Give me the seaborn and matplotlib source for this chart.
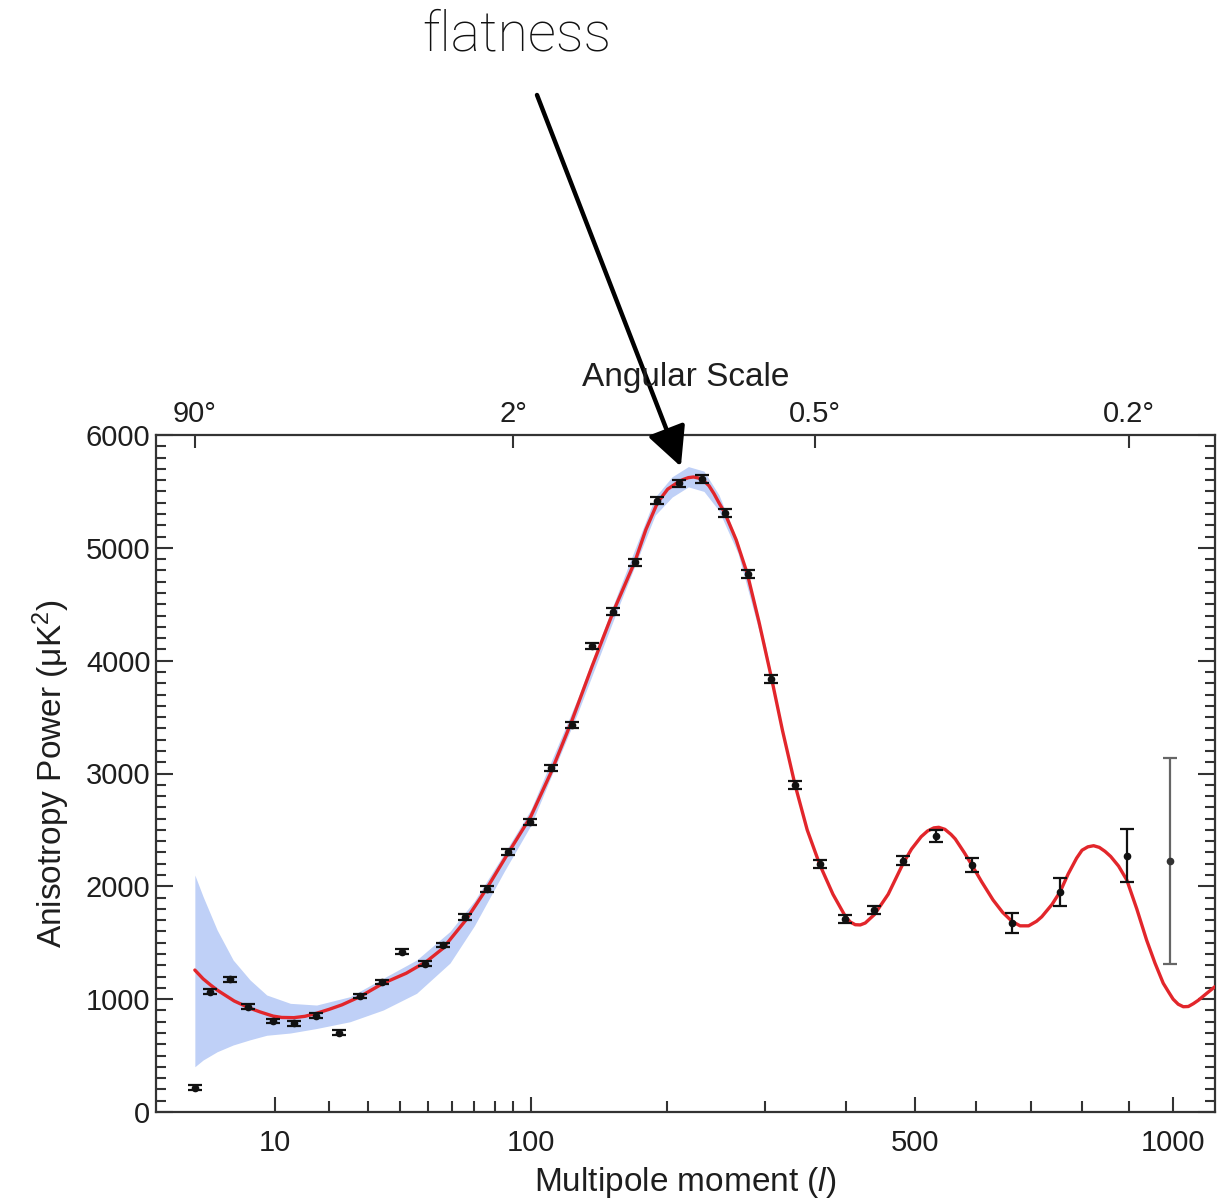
import numpy as np
import pandas as pd
import matplotlib
matplotlib.use("Agg")
import matplotlib.pyplot as plt
import seaborn as sns

# ---------------- data ----------------
ell = [2, 3, 4.6, 6.5, 9.7, 13, 17.2, 22.3, 27.6, 33.9, 40.6, 49, 56.2,
       65.7, 76.3, 87.3, 99.5, 112.3, 126, 140, 155.8, 173, 191.8, 211.3,
       233.4, 256.2, 280.3, 306.5, 335, 366, 399, 439.6, 481.7, 533.7, 593,
       663.6, 756, 895, 993]
power = [215, 1066, 1176, 933, 807, 786, 854, 703, 1028, 1150, 1421, 1314, 1480,
         1731, 1979, 2304, 2570, 3049, 3430, 4130, 4434, 4872, 5418, 5572,
         5610, 5306, 4768, 3840, 2898, 2198, 1708, 1790, 2227, 2446, 2189,
         1672, 1953, 2272, 2225]
power_err = [20, 20, 20, 20, 20, 20, 20, 20, 20, 20, 20, 20, 20,
             25, 25, 25, 25, 25, 25, 25, 30, 30, 30, 30,
             35, 35, 35, 35, 35, 35, 35, 35, 40, 55, 60,
             90, 125, 232, 910]

model_l = [2, 2.5, 3, 3.5, 4, 5, 6.7, 8, 9.7, 11, 13, 15, 17.3, 20, 23, 27.6,
           34.4, 42, 49.5, 56, 66, 76, 87, 100, 112, 126, 140, 156, 173, 182,
           192, 201, 210, 215, 220, 225, 230, 235, 240, 245, 250, 256, 268,
           280, 293, 307, 320, 335, 350, 366, 383, 399, 406, 413, 420, 427,
           440, 460, 482, 495, 510, 520, 530, 538, 548, 558, 565, 580, 593,
           610, 630, 647, 664, 679, 695, 710, 720, 740, 756, 772, 789, 800,
           812, 824, 836, 848, 860, 877, 895, 917, 939, 958, 977, 990, 1000,
           1012, 1024, 1036, 1048, 1060, 1080, 1101]
model_power = [1258, 1180, 1126, 1081, 1046, 984, 919, 885, 850, 838, 836, 848,
               875, 910, 950, 1022, 1141, 1230, 1335, 1450, 1700, 1980, 2290,
               2620, 3000, 3470, 3950, 4440, 4880, 5160, 5400, 5520, 5580,
               5605, 5622, 5628, 5618, 5595, 5550, 5480, 5400, 5310, 5070,
               4770, 4340, 3850, 3380, 2900, 2500, 2190, 1930, 1740, 1685,
               1660, 1658, 1675, 1750, 1930, 2200, 2330, 2440, 2490, 2518,
               2523, 2505, 2460, 2420, 2300, 2189, 2040, 1879, 1770, 1690,
               1650, 1650, 1690, 1730, 1840, 1953, 2110, 2250, 2320, 2350,
               2360, 2345, 2310, 2265, 2180, 2056, 1800, 1524, 1320, 1141,
               1060, 1000, 955, 933, 935, 960, 990, 1050, 1111]

band_l = [2, 2.5, 3.5, 4.9, 6.7, 8.8, 12.4, 17.3, 25, 34.4, 45.7, 59, 70, 85,
          100, 130, 160, 190, 205, 220, 235, 250, 270, 300, 320]
band_hi = [2100, 1908, 1613, 1347, 1170, 1037, 963, 948, 1022, 1185, 1347,
           1600, 1870, 2290, 2680, 3670, 4620, 5450, 5630, 5720, 5680, 5470,
           5050, 4140, 3400]
band_lo = [401, 461, 534, 594, 640, 680, 700, 740, 800, 904, 1052, 1320,
           1650, 2130, 2540, 3540, 4480, 5290, 5450, 5540, 5500, 5330, 4950,
           4060, 3360]

angle_l = [2, 90, 360, 900]
angle_labels = ["90°", "2°", "0.5°", "0.2°"]
x_major = [10, 100, 500, 1000]
x_major_labels = ["10", "100", "500", "1000"]
x_minor = [20, 30, 40, 50, 60, 70, 80, 90, 200, 300, 400, 600, 700, 800, 900]

# ---------------- style ----------------
sns.set_theme(style="ticks")
plt.rcParams["font.family"] = ["Liberation Sans", "DejaVu Sans"]
plt.rcParams["mathtext.fontset"] = "custom"
plt.rcParams["mathtext.rm"] = "Liberation Sans"
plt.rcParams["mathtext.it"] = "Liberation Sans:italic"
TXT = "#1e1e1e"
AXC = "#333333"

fig = plt.figure(figsize=(12.3, 12.01), dpi=100)
ax = fig.add_axes([156 / 1230, 1 - 1112 / 1201, (1215 - 156) / 1230, (1112 - 435) / 1201])

fwd = lambda v: np.sign(v) * np.abs(v) ** 0.4
inv = lambda v: np.sign(v) * np.abs(v) ** 2.5
ax.set_xscale("function", functions=(fwd, inv))

# cosmic-variance band
ax.fill_between(band_l, band_lo, band_hi, color="#bfd0f7", lw=0, zorder=1)

# model curve
df_model = pd.DataFrame({"l": model_l, "p": model_power})
sns.lineplot(data=df_model, x="l", y="p", color="#e2262b", lw=2.4, sort=False,
             ax=ax, zorder=3)

# data points
ax.errorbar(ell[:-1], power[:-1], yerr=power_err[:-1], fmt="o", ms=4.5,
            color="#111111", ecolor="#111111", elinewidth=1.6, capsize=5,
            capthick=1.6, zorder=4)
ax.errorbar(ell[-1:], power[-1:], yerr=power_err[-1:], fmt="o", ms=4.5,
            color="#333333", ecolor="#666666", elinewidth=1.6, capsize=5,
            capthick=1.6, zorder=4)

ax.set_xlim(0.475, 1101)
ax.set_ylim(0, 6000)

ax.set_xticks(x_major)
ax.set_xticklabels(x_major_labels)
ax.set_xticks(x_minor, minor=True)
ax.set_yticks(range(0, 6001, 1000))
ax.set_yticks(range(0, 6001, 100), minor=True)

ax.tick_params(axis="x", which="major", direction="in", length=11, width=1.5,
               labelsize=21, pad=12, colors=AXC, labelcolor=TXT, top=False)
ax.tick_params(axis="x", which="minor", direction="in", length=8, width=1.5,
               colors=AXC, top=False)
ax.tick_params(axis="y", which="major", direction="in", length=12, width=1.5,
               labelsize=21, pad=4, colors=AXC, labelcolor=TXT, right=True)
ax.tick_params(axis="y", which="minor", direction="in", length=7, width=1.5,
               colors=AXC, right=True)

for s in ax.spines.values():
    s.set_visible(True)
    s.set_linewidth(1.6)
    s.set_color(AXC)

ax.set_xlabel("Multipole moment ($\\mathit{l}$)", fontsize=24, color=TXT, labelpad=6)
ax.set_ylabel("Anisotropy Power (μK$^2$)", fontsize=24, color=TXT, labelpad=10)
ax.grid(False)

# top angular scale axis
ax2 = ax.twiny()
ax2.set_xscale("function", functions=(fwd, inv))
ax2.set_xlim(ax.get_xlim())
ax2.set_xticks(angle_l)
ax2.set_xticklabels(angle_labels)
ax2.set_xticks([], minor=True)
ax2.tick_params(axis="x", which="major", direction="in", length=9, width=1.5,
                labelsize=21, pad=5, colors=AXC, labelcolor=TXT)
ax2.set_xlabel("Angular Scale", fontsize=24, color=TXT, labelpad=10)
for s in ax2.spines.values():
    s.set_visible(False)
ax2.grid(False)

# annotation
fig.text(517 / 1230, 1 - 35 / 1201, "flatness", fontsize=40, ha="center",
         va="center", color="#111111", fontweight="light",
         family=["Roboto", "Liberation Sans"])
ax.annotate("", xy=(213, 5720), xycoords="data",
            xytext=(537 / 1230, 1 - 95 / 1201), textcoords="figure fraction",
            arrowprops=dict(arrowstyle="-|>,head_length=0.4,head_width=0.2",
                            mutation_scale=60, lw=3.2, color="#000000",
                            shrinkA=0, shrinkB=0),
            annotation_clip=False)

fig.savefig("out.png", dpi=100)
